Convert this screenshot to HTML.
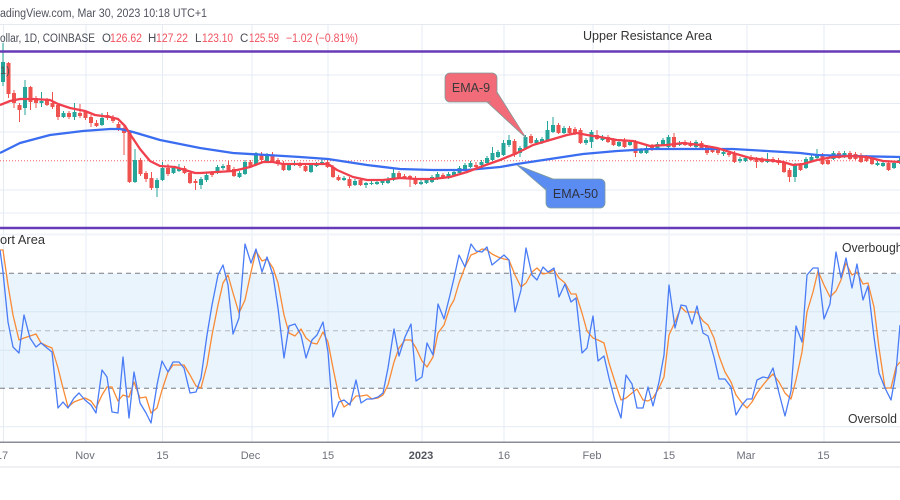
<!DOCTYPE html>
<html><head><meta charset="utf-8">
<style>
html,body{margin:0;padding:0;background:#fff;}
body{width:900px;height:500px;overflow:hidden;}
svg{display:block;font-family:"Liberation Sans",sans-serif;}
</style></head>
<body>
<svg id="s" width="900" height="500" viewBox="0 0 900 500" xmlns="http://www.w3.org/2000/svg">
<rect width="900" height="500" fill="#fff"/>
<!-- header -->
<text x="0" y="17" font-size="11.5" fill="#50535e" textLength="207" lengthAdjust="spacingAndGlyphs">adingView.com, Mar 30, 2023 10:18 UTC+1</text>
<line x1="0" y1="24.5" x2="900" y2="24.5" stroke="#e6e9ef" stroke-width="1"/>

<!-- stoch band -->
<rect x="0" y="273.3" width="900" height="115" fill="#e9f4fd"/>

<!-- grid -->
<g stroke="#e4ebf3" stroke-width="1">
<line x1="3.5" y1="25" x2="3.5" y2="442"/>
<line x1="86" y1="25" x2="86" y2="442"/>
<line x1="162.5" y1="25" x2="162.5" y2="442"/>
<line x1="252" y1="25" x2="252" y2="442"/>
<line x1="328" y1="25" x2="328" y2="442"/>
<line x1="422" y1="25" x2="422" y2="442"/>
<line x1="504" y1="25" x2="504" y2="442"/>
<line x1="593" y1="25" x2="593" y2="442"/>
<line x1="669" y1="25" x2="669" y2="442"/>
<line x1="747" y1="25" x2="747" y2="442"/>
<line x1="824" y1="25" x2="824" y2="442"/>
<line x1="0" y1="75" x2="900" y2="75"/>
<line x1="0" y1="103.5" x2="900" y2="103.5"/>
<line x1="0" y1="132" x2="900" y2="132"/>
<line x1="0" y1="190" x2="900" y2="190"/>
<line x1="0" y1="213" x2="900" y2="213"/>
<line x1="0" y1="311.7" x2="900" y2="311.7" stroke="#d8e6f3"/>
<line x1="0" y1="350.3" x2="900" y2="350.3" stroke="#d8e6f3"/>
<line x1="0" y1="426.7" x2="900" y2="426.7"/>
</g>
<rect x="0" y="233.5" width="900" height="2" fill="#f0f3f8"/>

<!-- stoch levels -->
<line x1="0" y1="273.3" x2="900" y2="273.3" stroke="#787b86" stroke-width="1" stroke-dasharray="5 4"/>
<line x1="0" y1="330.8" x2="900" y2="330.8" stroke="#b4b7c0" stroke-width="1" stroke-dasharray="5 4"/>
<line x1="0" y1="388.3" x2="900" y2="388.3" stroke="#787b86" stroke-width="1" stroke-dasharray="5 4"/>

<!-- last price dotted -->
<line x1="0" y1="160.7" x2="900" y2="160.7" stroke="#f23645" stroke-width="1" stroke-dasharray="1 2" opacity="0.8"/>

<!-- candles -->
<g id="cw"></g>
<g id="cb"></g>

<!-- EMA lines -->
<polyline fill="none" stroke="#3a6df0" stroke-width="2.3" stroke-linejoin="round" points="0,153 20,143 50,135 83,131 110,129 120,129 133,132 160,140 200,148 233,153 267,155 300,157 328,159 367,165 400,169 433,170 467,170 500,167 517,164 550,159 583,154 617,151 650,149 700,149 733,149 767,151 800,153 817,155 850,156 900,157"/>
<polyline fill="none" stroke="#f0404e" stroke-width="2.3" stroke-linejoin="round" points="0,105 10,101 20,99 33,99 50,100 58,104 70,108 85,111 95,115 110,117 118,119 125,126 130,134 140,149 150,161 160,166 175,167 185,170 195,173 200,173 217,172 233,171 250,167 263,162 273,162 283,164 300,164 317,164 328,164 337,170 353,177 367,180 383,180 400,178 417,179 433,179 450,177 467,172 483,166 500,160 517,153 533,145 550,140 567,135 577,133 587,135 600,137 617,140 633,141 650,146 667,145 683,143 700,145 717,148 733,153 750,158 767,160 783,162 793,165 803,164 817,160 833,157 850,156 867,157 883,161 900,162"/>

<!-- purple lines -->
<line x1="0" y1="51.5" x2="900" y2="51.5" stroke="#673ab7" stroke-width="2.6"/>
<line x1="0" y1="228" x2="900" y2="228" stroke="#673ab7" stroke-width="2.6"/>

<!-- legend -->
<g font-size="11.5">
<text x="0" y="42" fill="#4a4d57" textLength="95" lengthAdjust="spacingAndGlyphs">ollar, 1D, COINBASE</text>
<text x="102" y="42" fill="#4a4d57">O</text>
<text x="110" y="42" fill="#f0525f" textLength="32" lengthAdjust="spacingAndGlyphs">126.62</text>
<text x="148" y="42" fill="#4a4d57">H</text>
<text x="156" y="42" fill="#f0525f" textLength="32" lengthAdjust="spacingAndGlyphs">127.22</text>
<text x="195" y="42" fill="#4a4d57">L</text>
<text x="202" y="42" fill="#f0525f" textLength="31" lengthAdjust="spacingAndGlyphs">123.10</text>
<text x="240" y="42" fill="#4a4d57">C</text>
<text x="249" y="42" fill="#f0525f" textLength="30" lengthAdjust="spacingAndGlyphs">125.59</text>
<text x="286" y="42" fill="#f0525f" textLength="72" lengthAdjust="spacingAndGlyphs">−1.02 (−0.81%)</text>
</g>
<text x="583" y="40" font-size="12.5" fill="#333" textLength="129" lengthAdjust="spacingAndGlyphs">Upper Resistance Area</text>
<text x="0" y="74" font-size="11" fill="#555">1)</text>

<!-- callouts -->
<polygon points="486,101 497,92 526,138" fill="#f26b78" stroke="#7f9a9a" stroke-width="0.8"/>
<rect x="445" y="73" width="52" height="29" rx="5" fill="#f26b78" stroke="#7f9a9a" stroke-width="0.8"/>
<polygon points="488,99 496,93 525,136" fill="#f26b78"/>
<text x="471" y="92" font-size="12.5" fill="#3a3a3a" text-anchor="middle">EMA-9</text>

<polygon points="517,165 553,179 546,190" fill="#5b8cf2" stroke="#7f9a9a" stroke-width="0.8"/>
<rect x="546" y="179" width="59" height="29" rx="5" fill="#5b8cf2" stroke="#7f9a9a" stroke-width="0.8"/>
<polygon points="519,166 552,180 547,188" fill="#5b8cf2"/>
<text x="575.5" y="198" font-size="12.5" fill="#2e3240" text-anchor="middle">EMA-50</text>

<!-- stochastic -->
<polyline fill="none" stroke="#f98a35" stroke-width="1.3" stroke-linejoin="round" points="0,250 3,250 8,285 13,315 19,340 24,338 30,336 36,334 41,343 47,346 52,348 58,368 63,388 68,407 74,402 79,400 85,398 91,401 96,408 102,395 107,387 112,387 118,401 123,395 129,397 134,382 140,398 146,397 151,413 157,408 162,390 168,372 173,365 179,365 184,365 190,375 196,386 201,388 207,365 212,335 218,305 223,283 228,275 233,293 239,313 245,300 251,272 256,251 262,261 267,259 273,268 278,283 284,315 289,333 295,336 301,329 306,338 312,343 317,344 323,332 328,342 333,368 339,397 344,407 350,403 356,396 361,396 367,395 372,399 378,398 383,395 388,385 394,362 399,348 405,340 411,340 416,348 422,361 427,367 433,357 438,333 444,325 450,307 454,300 459,283 465,267 471,255 476,253 482,249 487,250 492,254 498,257 504,259 509,260 515,275 521,287 526,283 532,272 537,268 543,274 548,273 554,270 559,278 565,283 571,294 576,294 582,313 587,331 593,338 598,340 604,343 609,363 615,382 621,400 626,398 632,393 637,389 643,400 648,401 653,398 659,388 664,377 669,335 675,322 681,307 686,312 692,312 697,312 703,321 708,325 714,338 719,356 725,372 731,382 736,395 742,403 747,408 752,402 757,393 763,385 768,379 773,374 779,382 785,393 791,399 796,380 802,352 807,312 813,292 818,271 824,285 830,297 836,291 841,280 846,263 852,275 857,272 863,284 868,283 874,307 879,348 885,388 891,388 896,367 900,362"/>
<polyline fill="none" stroke="#4a7cf6" stroke-width="1.3" stroke-linejoin="round" points="0,250 3,272 8,322 13,347 19,353 24,315 30,338 36,347 41,343 47,348 52,352 58,408 63,402 68,408 74,398 79,393 85,400 91,405 96,413 102,370 107,377 112,412 118,413 123,357 129,418 134,372 140,403 146,413 151,423 157,385 162,361 168,372 173,362 179,362 184,368 190,393 196,392 201,378 207,335 212,305 218,275 223,265 228,285 233,334 239,318 245,244 251,263 256,249 262,272 267,257 273,275 278,308 284,358 289,326 295,324 301,335 306,358 312,340 317,335 323,322 328,352 333,417 339,402 344,400 350,405 356,380 361,403 367,399 372,399 378,397 383,393 388,368 394,329 399,356 405,337 411,324 416,381 422,377 427,343 433,355 438,304 444,319 450,295 454,278 459,255 465,267 471,244 476,251 482,252 487,247 492,265 498,260 504,255 509,260 515,312 521,290 526,248 532,275 537,280 543,267 548,272 554,268 559,297 565,284 571,302 576,298 582,353 587,348 593,316 598,361 604,356 609,378 615,401 621,418 626,375 632,384 637,408 643,408 648,387 653,406 659,382 664,355 669,285 675,328 681,305 686,306 692,324 697,306 703,333 708,336 714,357 719,379 725,379 731,387 736,415 742,405 747,399 752,399 757,380 763,377 768,378 773,368 779,393 785,416 791,391 796,326 802,342 807,275 813,268 818,268 824,319 830,304 836,252 841,278 846,258 852,288 857,264 863,300 868,286 874,337 879,373 885,388 891,400 896,372 900,325"/>

<text x="0" y="244" font-size="12.5" fill="#333" textLength="45" lengthAdjust="spacingAndGlyphs">ort Area</text>
<text x="842" y="252" font-size="12.5" fill="#333" textLength="64" lengthAdjust="spacingAndGlyphs">Overbought</text>
<text x="848" y="423" font-size="12.5" fill="#333" textLength="49" lengthAdjust="spacingAndGlyphs">Oversold</text>

<!-- time axis -->
<line x1="0" y1="442.3" x2="900" y2="442.3" stroke="#8a8d96" stroke-width="1.5"/>
<rect x="0" y="466" width="900" height="2" fill="#eef0f4"/>
<g font-size="11" fill="#6e717b" text-anchor="middle">
<text x="2" y="459">17</text>
<text x="85" y="459">Nov</text>
<text x="162.5" y="459">15</text>
<text x="250.5" y="459">Dec</text>
<text x="328" y="459">15</text>
<text x="421" y="459" font-weight="bold" fill="#50535e">2023</text>
<text x="504" y="459">16</text>
<text x="592" y="459">Feb</text>
<text x="669" y="459">15</text>
<text x="746" y="459">Mar</text>
<text x="823.5" y="459">15</text>
</g>
</svg>
<script>
(function(){
var D="g62,82,43,86 r63,94,62,98 r93,103,90,108 r105,110,103,122 g87,108,80,115 r87,102,86,110 r98,103,96,108 g101,103,92,107 r100,105,98,106 r103,107,92,109 r105,117,104,120 g113,117,111,118 r113,117,111,119 g112,117,103,120 r113,116,104,118 r112,118,110,120 r117,123,115,127 r123,126,120,127 g118,125,113,126 r115,118,112,120 r117,121,115,123 r124,130,122,131 r128,133,125,155 r132,182,130,183 g160,182,149,183 r160,174,158,176 r173,179,171,182 r178,188,172,190 g180,188,178,197 g168,180,162,181 r168,174,164,176 g168,173,166,174 g168,171,164,172 r168,173,166,174 r173,183,171,184 r181,183,179,190 g179,185,177,189 g175,180,173,182 r173,175,171,177 g167,173,165,174 g166,168,164,170 r165,171,161,172 r169,176,167,177 g173,177,171,178 g162,174,160,175 r162,166,160,168 g153,165,152,166 r154,160,152,162 g155,161,153,162 r155,162,152,163 r160,164,158,166 r163,170,161,171 g165,170,163,171 g163,165,161,166 r164,166,162,168 r166,171,164,172 g165,172,163,173 g164,166,162,167 g162,164,159,165 r162,167,160,168 r167,177,165,178 r177,180,175,181 g178,180,176,181 r179,186,177,188 g181,185,179,186 r180,185,178,186 g183,185,182,188 g183,184,181,185 g182,184,181,185 g181,183,180,185 g179,183,177,184 g173,180,169,181 r173,178,171,179 r176,178,174,179 r176,178,175,187 r178,184,176,185 g182,184,180,185 g180,183,178,184 g177,182,175,183 g174,179,172,180 r175,178,173,179 g174,178,172,179 g172,175,170,176 g168,173,166,174 g165,170,163,171 g163,167,161,168 r165,167,162,168 g162,165,160,166 g158,163,156,164 g153,160,147,161 g152,157,150,158 g143,155,140,156 g140,145,135,147 r141,155,139,157 g148,153,146,157 g137,148,135,149 r136,143,134,144 g140,143,138,144 g139,143,137,144 g130,140,121,141 g125,132,117,133 r125,133,123,134 g128,133,126,134 r128,133,126,134 r129,134,127,135 r130,143,128,144 g140,143,138,145 g132,142,130,148 r135,139,130,140 g137,140,135,141 r137,142,135,143 r140,145,138,146 g142,146,140,147 r140,147,138,148 g142,145,140,146 r142,153,140,157 g150,153,148,154 g148,153,146,154 r146,150,144,151 g144,148,142,149 g140,145,138,146 g137,147,135,148 r137,147,133,148 g143,145,141,146 r142,145,140,146 r143,146,141,147 g142,147,140,148 r143,148,141,149 r147,153,145,155 r148,152,146,153 r150,153,148,155 g152,154,150,156 r153,155,151,157 r153,162,151,163 g159,161,157,163 g158,161,156,162 r157,160,155,161 r159,162,157,168 r159,162,157,163 g159,162,153,163 r159,162,157,163 r160,163,158,165 r163,172,161,173 r170,177,168,182 g165,177,163,182 r165,170,163,171 g159,168,157,169 g157,161,155,162 g154,158,149,159 r155,164,153,165 r160,164,158,165 g153,159,151,160 r153,158,151,159 g153,157,151,158 r153,159,151,160 r154,159,152,160 r155,162,153,163 r157,161,155,162 r159,164,157,165 g163,165,161,166 g163,166,161,167 r163,170,161,171 g163,168,161,169 g160,163,158,164".split(" ");
var NS="http://www.w3.org/2000/svg",cw=document.getElementById("cw"),cb=document.getElementById("cb");
for(var i=0;i<D.length;i++){
var s=D[i],col=s[0]=="g"?"#26a69a":"#ef5350",n=s.slice(1).split(",").map(Number),x=3+i*5.5;
var l=document.createElementNS(NS,"line");
l.setAttribute("x1",x);l.setAttribute("x2",x);l.setAttribute("y1",n[2]);l.setAttribute("y2",n[3]);
l.setAttribute("stroke",col);l.setAttribute("stroke-width","1");cw.appendChild(l);
var r=document.createElementNS(NS,"rect");
r.setAttribute("x",x-2);r.setAttribute("y",n[0]);r.setAttribute("width",4);r.setAttribute("height",Math.max(1,n[1]-n[0]));
r.setAttribute("fill",col);cb.appendChild(r);
}
})();
</script>
</body></html>
